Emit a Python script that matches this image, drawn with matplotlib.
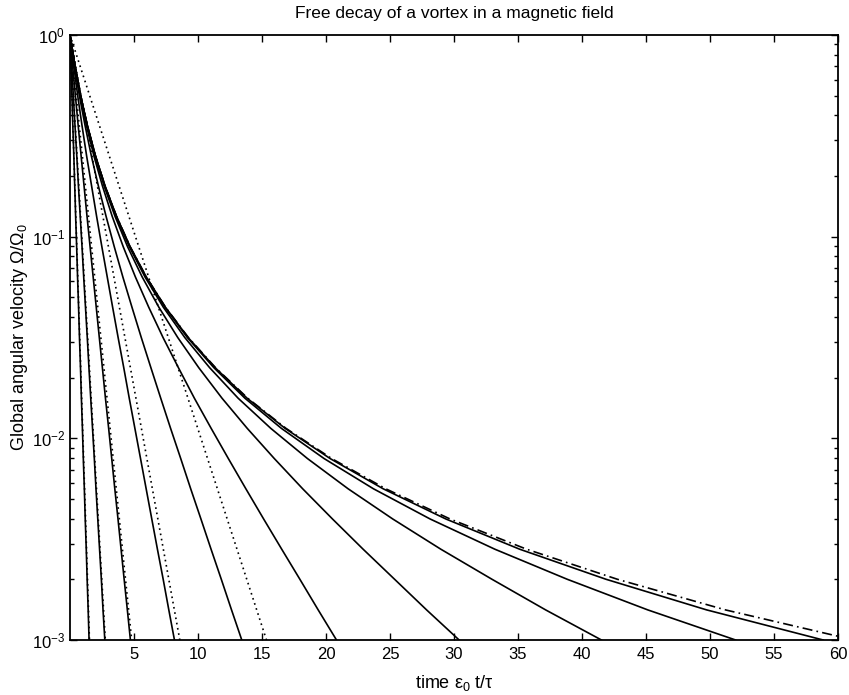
import matplotlib
matplotlib.use('Agg')
import matplotlib.pyplot as plt

plt.rcParams['font.family'] = ['Liberation Sans', 'DejaVu Sans']
plt.rcParams['mathtext.default'] = 'regular'
plt.rcParams['font.size'] = 12

omega_levels = [1.0, 0.708, 0.501, 0.355, 0.251, 0.178, 0.126, 0.0891, 0.0631,
                0.0447, 0.0316, 0.0224, 0.0158, 0.0112, 0.00794, 0.00562,
                0.00398, 0.00282, 0.00200, 0.00141, 0.00100]

# times (eps0 t / tau) at those levels, one list per field strength
t_field = [
    [0.00, 0.07, 0.15, 0.22, 0.30, 0.37, 0.44, 0.52, 0.59, 0.67, 0.74,
     0.82, 0.89, 0.97, 1.04, 1.12, 1.19, 1.27, 1.34, 1.42, 1.49],
    [0.00, 0.13, 0.26, 0.39, 0.53, 0.66, 0.80, 0.94, 1.07, 1.21, 1.35,
     1.48, 1.62, 1.76, 1.90, 2.03, 2.17, 2.31, 2.45, 2.58, 2.72],
    [0.00, 0.20, 0.42, 0.64, 0.87, 1.10, 1.33, 1.57, 1.81, 2.05, 2.29,
     2.53, 2.77, 3.02, 3.26, 3.50, 3.75, 3.99, 4.23, 4.48, 4.72],
    [0.00, 0.29, 0.60, 0.94, 1.30, 1.69, 2.08, 2.49, 2.91, 3.33, 3.76,
     4.20, 4.63, 5.07, 5.51, 5.95, 6.39, 6.83, 7.28, 7.72, 8.16],
    [0.00, 0.34, 0.73, 1.18, 1.67, 2.22, 2.82, 3.46, 4.13, 4.84, 5.57,
     6.32, 7.09, 7.86, 8.65, 9.43, 10.23, 11.02, 11.82, 12.62, 13.42],
    [0.00, 0.36, 0.79, 1.29, 1.87, 2.54, 3.30, 4.16, 5.11, 6.15, 7.27,
     8.47, 9.72, 11.03, 12.37, 13.74, 15.13, 16.54, 17.96, 19.39, 20.82],
    [0.00, 0.37, 0.81, 1.34, 1.95, 2.67, 3.52, 4.50, 5.64, 6.94, 8.42,
     10.06, 11.88, 13.85, 15.96, 18.18, 20.51, 22.90, 25.36, 27.86, 30.40],
    [0.00, 0.38, 0.82, 1.35, 1.98, 2.72, 3.60, 4.64, 5.86, 7.29, 8.97,
     10.91, 13.14, 15.69, 18.55, 21.73, 25.22, 28.97, 32.97, 37.16, 41.52],
    [0.00, 0.38, 0.82, 1.36, 1.99, 2.74, 3.63, 4.68, 5.93, 7.42, 9.17,
     11.24, 13.67, 16.52, 19.85, 23.71, 28.14, 33.19, 38.85, 45.14, 52.00],
    [0.00, 0.38, 0.82, 1.36, 1.99, 2.74, 3.63, 4.70, 5.96, 7.45, 9.23,
     11.34, 13.84, 16.81, 20.32, 24.47, 29.37, 35.13, 41.88, 49.74, 58.84],
]

# no field (dash-dot)
t_nofield = [0.00, 0.38, 0.83, 1.36, 1.99, 2.74, 3.64, 4.70, 5.96, 7.46, 9.25,
             11.37, 13.89, 16.88, 20.44, 24.67, 29.70, 35.67, 42.77, 51.21, 61.25]

# pure exponential approximations (dotted): time where they reach 1e-3
t_exp_end = [1.52, 2.76, 4.82, 8.58, 15.35]

fig = plt.figure(figsize=(8.49, 6.95), dpi=100)
ax = fig.add_axes([70 / 849, 55 / 695, 768 / 849, 605 / 695])

for tt in t_field:
    ax.plot(tt, omega_levels, color='k', linewidth=1.2)

for te in t_exp_end:
    ax.plot([0, te], [omega_levels[0], omega_levels[-1]], color='k',
            linewidth=1.2, linestyle=(0, (1, 2.2)))

ax.plot(t_nofield, omega_levels, color='k', linewidth=1.2,
        linestyle=(0, (6, 2.5, 1, 2.5)))

ax.set_yscale('log')
ax.set_xlim(0, 60)
ax.set_ylim(1e-3, 1)
ax.set_xticks(range(5, 61, 5))
ax.set_yticks([1e-3, 1e-2, 1e-1, 1])

ax.tick_params(which='both', direction='in', top=True, right=True, width=1.0)
ax.tick_params(which='major', length=5)
ax.tick_params(which='minor', length=3)
ax.tick_params(axis='x', pad=5)
for sp in ax.spines.values():
    sp.set_linewidth(1.3)

ax.set_title('Free decay of a vortex in a magnetic field', fontsize=12.5, pad=12)
ax.set_xlabel('time ε$_0$ t/τ', fontsize=13, labelpad=8)
ax.set_ylabel('Global angular velocity Ω/Ω$_0$', fontsize=13, labelpad=1)

fig.savefig('out.png', dpi=100)
